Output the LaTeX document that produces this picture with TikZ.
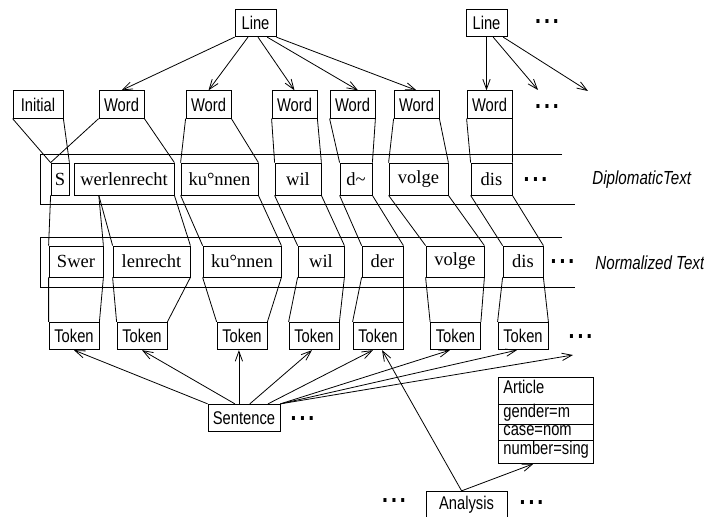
\documentclass[tikz,border=0pt]{standalone}
\usepackage{fontspec}
\setmainfont{Liberation Serif}
\setsansfont{Liberation Sans}[FakeStretch=0.8]
\usetikzlibrary{arrows.meta,calc}
\newcommand{\etc}{\textbf{.\hspace{2.2pt}.\hspace{2.2pt}.}}

\begin{document}
\begin{tikzpicture}[x=0.75pt,y=-0.75pt,line width=0.6pt,
  every node/.style={inner sep=0pt},
  obj/.style={draw,fill=white,font=\sffamily\fontsize{13.8}{14}\selectfont,minimum width=#1*0.75pt,minimum height=27.5*0.75pt},
  dip/.style={draw,fill=white,font=\rmfamily\fontsize{13.9}{14}\selectfont,minimum width=#1*0.75pt,minimum height=32*0.75pt},
  nor/.style={dip=#1,minimum height=31*0.75pt},
  feat/.style={draw,fill=white,anchor=north west,font=\sffamily\fontsize{13.8}{14}\selectfont,inner xsep=3.75pt,text width=63.75pt,align=left,text height=4.5pt,text depth=0pt,minimum height=#1*0.75pt},
  more/.style={font=\sffamily\fontsize{20}{20}\selectfont},
  layer/.style={anchor=west,font=\sffamily\itshape\fontsize{14.2}{15}\selectfont},
  arr/.style={-{Straight Barb[length=7.5pt,width=5.5pt]}}]
\useasboundingbox (0,0) rectangle (704,517);

% text layers
\draw (562,154) -| (40,204) -- (575,204);
\draw (562,237) -| (40,287) -- (575,287);

% lines and words
\node[obj=41] (l1) at (255.5,23) {Line};
\node[obj=41] (l2) at (486.5,23) {Line};
\node[more] (m1) at (547,22) {\etc};
\node[obj=50] (ini) at (38,104.5) {Initial};
\node[obj=45] (w1) at (121.5,104.5) {Word};
\node[obj=45] (w2) at (208.5,104.5) {Word};
\node[obj=45] (w3) at (294.5,104.5) {Word};
\node[obj=45] (w4) at (352.5,104.5) {Word};
\node[obj=45] (w5) at (416.5,104.5) {Word};
\node[obj=45] (w6) at (489.5,104.5) {Word};
\node[more] (m2) at (547,107) {\etc};

% diplomatic text
\node[dip=18] (ds) at (60,179) {S};
\node[dip=100] (dw) at (124,179) {werlenrecht};
\node[dip=77] (dk) at (219.5,179) {ku°nnen};
\node[dip=46] (dwil) at (298,179) {wil};
\node[dip=32] (dd) at (356,179) {d\textasciitilde};
\node[dip=59] (dv) at (418.5,179) {volge};
\node[dip=41] (ddis) at (491.5,179) {dis};
\node[more] (m3) at (535.5,180) {\etc};
\node[layer] (ldip) at (592,180) {DiplomaticText};

% normalized text
\node[nor=54] (nsw) at (76,261.5) {Swer};
\node[nor=77] (nl) at (151.5,261.5) {lenrecht};
\node[nor=78] (nk) at (242,261.5) {ku°nnen};
\node[nor=46] (nwil) at (321,261.5) {wil};
\node[nor=41] (nd) at (382.5,261.5) {der};
\node[nor=58] (nv) at (455,261.5) {volge};
\node[nor=40] (ndis) at (523,261.5) {dis};
\node[more] (m4) at (562.5,262) {\etc};
\node[layer] (lnor) at (595,263) {Normalized Text};

% tokens
\node[obj=50] (t1) at (74,336) {Token};
\node[obj=50] (t2) at (142,336) {Token};
\node[obj=50] (t3) at (242,336) {Token};
\node[obj=50] (t4) at (314,336) {Token};
\node[obj=50] (t5) at (378,336) {Token};
\node[obj=50] (t6) at (455.5,336) {Token};
\node[obj=50] (t7) at (523,336) {Token};
\node[more] (m5) at (580.5,337) {\etc};

\node[obj=72] (s) at (244,418) {Sentence};
\node[more] (m6) at (302.5,419) {\etc};
\node[obj=81] (an) at (466.5,505) {Analysis};
\node[more] (m7) at (394,501) {\etc};
\node[more] (m8) at (531.5,503) {\etc};

% article
\node[feat=27] (art) at (498,377) {Article};
\node[feat=20] (agen) at (498,404) {gender=m};
\node[feat=16] (acas) at (498,424) {case=nom};
\node[feat=23] (anum) at (498,440) {number=sing};

\coordinate (e1) at (538,90);
\coordinate (e2) at (588,91);
\coordinate (e3) at (573,355);

% line -> word
\draw[arr] (l1.south west) -- (w1.north);
\draw[arr] ($(l1.south west)!0.32!(l1.south east)$) -- (w2.north);
\draw[arr] ($(l1.south west)!0.56!(l1.south east)$) -- (w3.north);
\draw[arr] ($(l1.south west)!0.78!(l1.south east)$) -- ($(w4.north west)!0.62!(w4.north east)$);
\draw[arr] (l1.south east) -- (w5.north);
\draw[arr] (l2.south) -- (l2.south |- w6.north);
\draw[arr] ($(l2.south west)!0.66!(l2.south east)$) -- (e1);
\draw[arr] ($(l2.south west)!0.9!(l2.south east)$) -- (e2);

% word -> diplomatic
\draw (ini.south west) -- (ds.north west) (ini.south east) -- (ds.north east);
\draw (w1.south west) -- (ds.north west) (w1.south east) -- (dw.north east);
\draw (w2.south west) -- (dk.north west) (w2.south east) -- (dk.north east);
\draw (w3.south west) -- (dwil.north west) (w3.south east) -- (dwil.north east);
\draw (w4.south west) -- (dd.north west) (w4.south east) -- (dd.north east);
\draw (w5.south west) -- (dv.north west) (w5.south east) -- (dv.north east);
\draw (w6.south west) -- (ddis.north west) (w6.south east) -- (ddis.north east);

% diplomatic -> normalized
\coordinate (wer) at ($(dw.south west)!0.25!(dw.south east)$);
\draw (ds.south west) -- (nsw.north west) (wer) -- (nsw.north east);
\draw (wer) -- (nl.north west) (dw.south east) -- (nl.north east);
\draw (dk.south west) -- (nk.north west) (dk.south east) -- (nk.north east);
\draw (dwil.south west) -- (nwil.north west) (dwil.south east) -- (nwil.north east);
\draw (dd.south west) -- (nd.north west) (dd.south east) -- (nd.north east);
\draw (dv.south west) -- (nv.north west) (dv.south east) -- (nv.north east);
\draw (ddis.south west) -- (ndis.north west) (ddis.south east) -- (ndis.north east);

% normalized -> token
\draw (nsw.south west) -- (t1.north west) (nsw.south east) -- (t1.north east);
\draw (nl.south west) -- (t2.north west) (nl.south east) -- (t2.north east);
\draw (nk.south west) -- (t3.north west) (nk.south east) -- (t3.north east);
\draw (nwil.south west) -- (t4.north west) (nwil.south east) -- (t4.north east);
\draw (nd.south west) -- (t5.north west) (nd.south east) -- (t5.north east);
\draw (nv.south west) -- (t6.north west) (nv.south east) -- (t6.north east);
\draw (ndis.south west) -- (t7.north west) (ndis.south east) -- (t7.north east);

% sentence -> token
\coordinate (s3) at ($(s.north west)!0.43!(s.north east)$);
\draw[arr] (s.north west) -- (t1.south);
\draw[arr] ($(s.north west)!0.375!(s.north east)$) -- (t2.south);
\draw[arr] (s3) -- (s3 |- t3.south);
\draw[arr] ($(s.north west)!0.58!(s.north east)$) -- ($(t4.south west)!0.46!(t4.south east)$);
\draw[arr] ($(s.north west)!0.83!(s.north east)$) -- ($(t5.south west)!0.4!(t5.south east)$);
\draw[arr] (s.north east) -- ($(t6.south west)!0.39!(t6.south east)$);
\draw[arr] (s.north east) -- ($(t7.south west)!0.38!(t7.south east)$);
\draw[arr] (s.north east) -- (e3);

% analysis
\coordinate (a0) at ($(an.north west)!0.44!(an.north east)$);
\draw[arr] (a0) -- ($(t5.south west)!0.58!(t5.south east)$);
\draw[arr] (a0) -- ($(anum.south west)!0.37!(anum.south east)$);

\end{tikzpicture}
\end{document}
